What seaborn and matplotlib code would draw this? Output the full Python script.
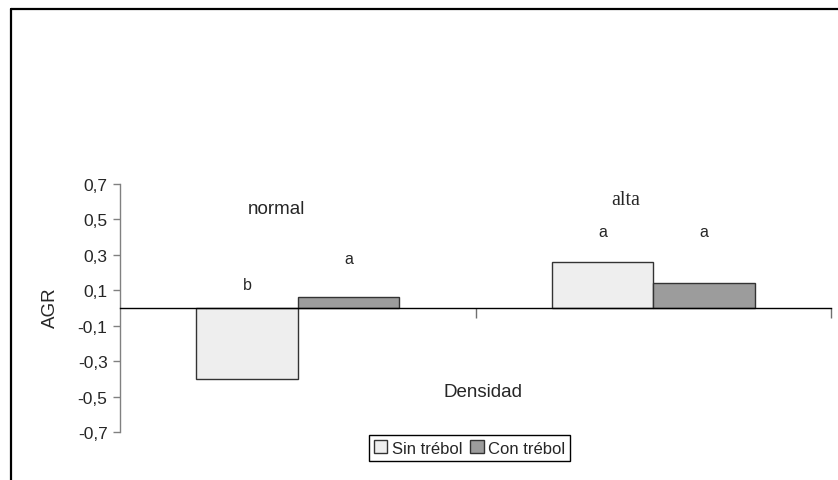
import matplotlib
matplotlib.use("Agg")
import matplotlib.pyplot as plt
from matplotlib.lines import Line2D
import seaborn as sns
import pandas as pd

# Datos: tasa de crecimiento (AGR) por densidad y presencia de trébol
densidades = ["normal", "alta"]
tratamientos = ["Sin trébol", "Con trébol"]
agr_sin = [-0.40, 0.26]
agr_con = [0.06, 0.14]
letras_sin = ["b", "a"]
letras_con = ["a", "a"]
altura_letras = [[0.13, 0.277], [0.43, 0.43]]  # por densidad: [sin, con]
yticks = [-0.7, -0.5, -0.3, -0.1, 0.1, 0.3, 0.5, 0.7]

df = pd.DataFrame({
    "Densidad": densidades * 2,
    "Trébol": [tratamientos[0]] * 2 + [tratamientos[1]] * 2,
    "AGR": agr_sin + agr_con,
})

sns.set_style("white")
plt.rcParams["font.family"] = ["Liberation Sans", "DejaVu Sans"]

fig = plt.figure(figsize=(8.38, 4.81), dpi=100)
ax = fig.add_axes([120 / 838, 48 / 481, 711 / 838, 248 / 481])

ancho = 0.57
sns.barplot(data=df, x="Densidad", y="AGR", hue="Trébol", order=densidades,
            hue_order=tratamientos, palette=["#eeeeee", "#9c9c9c"],
            width=ancho, errorbar=None, edgecolor="#333333", linewidth=1.0,
            ax=ax, legend=True)

ax.set_xlim(-0.5, 1.5)
ax.set_ylim(-0.7, 0.7)
ax.set_xlabel("")
ax.set_ylabel("")

ax.set_yticks(yticks)
ax.set_yticklabels([f"{v:.1f}".replace(".", ",") for v in yticks], fontsize=12.5)
ax.set_xticks([0.5, 1.5])
ax.set_xticklabels([])
ax.tick_params(axis="y", direction="out", length=5, width=1, color="#808080",
               pad=4, left=True)
ax.tick_params(axis="x", direction="out", length=7, width=1, color="#707070",
               bottom=True)

for s in ["top", "right"]:
    ax.spines[s].set_visible(False)
ax.spines["bottom"].set_position(("data", 0))
ax.spines["bottom"].set_color("black")
ax.spines["bottom"].set_linewidth(1.0)
ax.spines["left"].set_color("#808080")
ax.spines["left"].set_linewidth(1.0)

# Letras de significación sobre cada barra
desp = ancho / 4
for i in range(len(densidades)):
    ax.text(i - desp, altura_letras[i][0], letras_sin[i], ha="center",
            va="center", fontsize=11.5)
    ax.text(i + desp, altura_letras[i][1], letras_con[i], ha="center",
            va="center", fontsize=11.5)

ax.text(-0.061, 0.56, "normal", ha="center", va="center", fontsize=13.5)
ax.text(0.923, 0.61, "alta", ha="center", va="center", fontsize=14.5,
        family=["Liberation Serif", "DejaVu Serif"])
ax.text(0.521, -0.47, "Densidad", ha="center", va="center", fontsize=13.5)

fig.text(50.5 / 838, 1 - 308 / 481, "AGR", rotation=90, ha="center",
         va="center", fontsize=13.5)

handles, labels = ax.get_legend_handles_labels()
ax.legend(handles, labels, loc="center", ncol=2,
          bbox_to_anchor=(469.5 / 838, 1 - 449 / 481),
          bbox_transform=fig.transFigure, fontsize=12, frameon=True,
          fancybox=False, edgecolor="black", framealpha=1,
          handlelength=0.8, handleheight=0.8, handletextpad=0.25,
          columnspacing=0.5, borderpad=0.3, borderaxespad=0)
ax.get_legend().get_frame().set_linewidth(1.0)

# Marco del gráfico (bordes superior e izquierdo)
fig.add_artist(Line2D([11 / 838, 11 / 838], [0, 1 - 10 / 481],
                      transform=fig.transFigure, color="black", lw=1.6))
fig.add_artist(Line2D([11 / 838, 1], [1 - 10 / 481, 1 - 10 / 481],
                      transform=fig.transFigure, color="black", lw=1.6))

fig.savefig("out.png", dpi=100)
